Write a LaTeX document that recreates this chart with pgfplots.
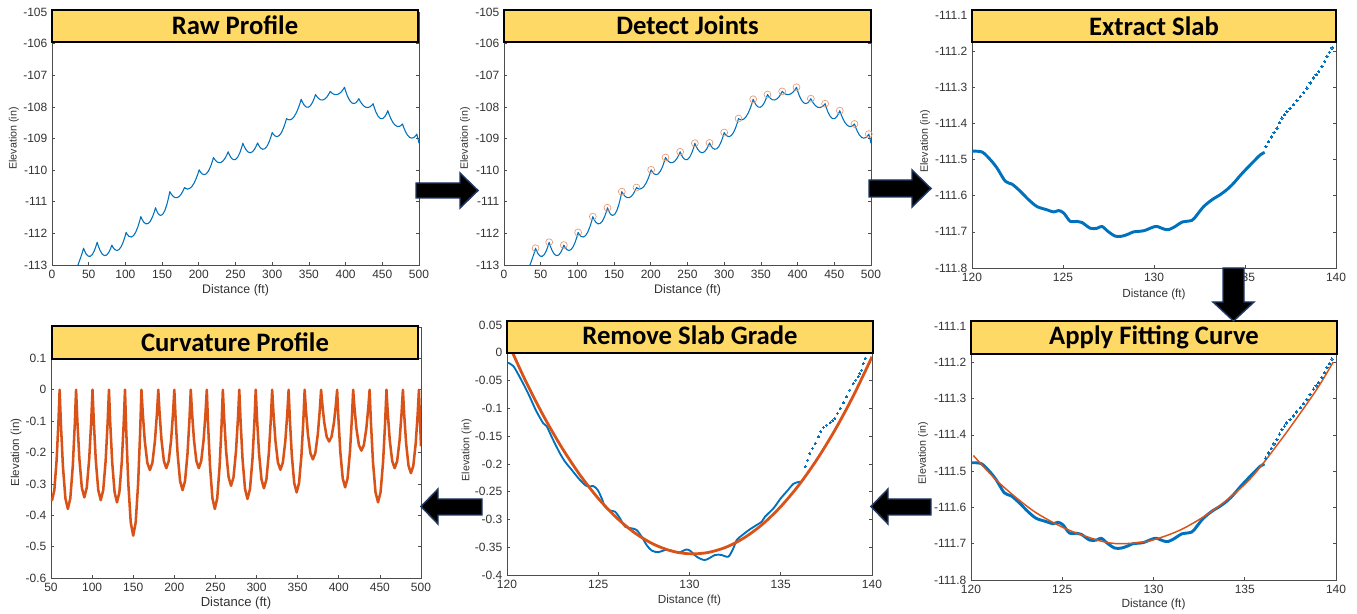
\documentclass[border=0pt]{standalone}
\usepackage{fontspec}
\setmainfont{Liberation Sans}
\newfontfamily\titlefont{Carlito}
\usepackage{pgfplots}
\usepackage{pgfplotstable}
\pgfplotsset{compat=1.18}
\definecolor{mblue}{HTML}{0072BD}
\definecolor{morange}{HTML}{D95319}
\definecolor{axgray}{HTML}{4D4D4D}
\definecolor{txtgray}{HTML}{333333}
\definecolor{titleyellow}{HTML}{FFD966}
\definecolor{arrowblue}{HTML}{1F3864}

\pgfplotstableread{
x y
34 -113.08
36 -112.96
38.5 -112.8
41 -112.63
43 -112.47
44.48 -112.558
46.7 -112.656
49.48 -112.722
52.25 -112.725
55.03 -112.665
57.8 -112.542
60.02 -112.398
61.5 -112.28
63.1 -112.399
65.5 -112.541
68.5 -112.657
71.5 -112.705
74.5 -112.684
77.5 -112.595
79.9 -112.475
81.5 -112.37
83.06 -112.439
85.4 -112.51
88.33 -112.542
91.25 -112.513
94.18 -112.422
97.1 -112.27
99.44 -112.103
101 -111.97
102.6 -112.034
105 -112.095
108 -112.115
111 -112.072
114 -111.965
117 -111.795
119.4 -111.614
121 -111.47
122.6 -111.553
125 -111.644
128 -111.699
131 -111.689
134 -111.615
137 -111.476
139.4 -111.318
141 -111.19
142.56 -111.286
144.9 -111.386
147.83 -111.435
150.75 -111.40
153.68 -111.282
156.6 -111.08
158.94 -110.858
160.5 -110.68
162.1 -110.745
164.5 -110.818
167.5 -110.868
170.5 -110.871
173.5 -110.829
176.5 -110.74
178.9 -110.636
180.5 -110.55
182.1 -110.579
184.5 -110.598
187.5 -110.582
190.5 -110.52
193.5 -110.414
196.5 -110.262
198.9 -110.108
200.5 -109.99
202.06 -110.053
204.4 -110.117
207.33 -110.145
210.25 -110.115
213.18 -110.028
216.1 -109.883
218.44 -109.725
220 -109.60
221.6 -109.659
224 -109.724
227 -109.765
230 -109.76
233 -109.711
236 -109.616
238.4 -109.508
240 -109.42
241.6 -109.51
244 -109.609
247 -109.671
250 -109.665
253 -109.59
256 -109.447
258.4 -109.284
260 -109.15
261.6 -109.239
264 -109.344
267 -109.425
270 -109.451
273 -109.422
276 -109.338
278.4 -109.231
280 -109.14
281.6 -109.216
284 -109.297
287 -109.341
290 -109.323
293 -109.242
296 -109.099
298.4 -108.939
300 -108.81
301.56 -108.867
303.9 -108.923
306.83 -108.942
309.75 -108.904
312.68 -108.81
315.6 -108.659
317.94 -108.498
319.5 -108.37
321.1 -108.396
323.5 -108.411
326.5 -108.389
329.5 -108.32
332.5 -108.206
335.5 -108.045
337.9 -107.884
339.5 -107.76
341.06 -107.844
343.4 -107.939
346.33 -108.005
349.25 -108.012
352.18 -107.96
355.1 -107.849
357.44 -107.718
359 -107.61
360.6 -107.667
363 -107.732
366 -107.777
369 -107.782
372 -107.747
375 -107.672
377.4 -107.583
379 -107.51
380.56 -107.548
382.9 -107.59
385.83 -107.615
388.75 -107.61
391.68 -107.576
394.6 -107.512
396.94 -107.439
398.5 -107.38
400.06 -107.5
402.4 -107.651
405.33 -107.789
408.25 -107.871
411.18 -107.897
414.1 -107.867
416.44 -107.803
418 -107.74
419.56 -107.81
421.9 -107.896
424.83 -107.973
427.75 -108.014
430.68 -108.021
433.6 -107.992
435.94 -107.944
437.5 -107.90
439.1 -108.023
441.5 -108.174
444.5 -108.304
447.5 -108.369
450.5 -108.37
453.5 -108.306
455.9 -108.208
457.5 -108.12
459.1 -108.227
461.5 -108.364
464.5 -108.495
467.5 -108.58
470.5 -108.621
473.5 -108.616
475.9 -108.58
477.5 -108.54
479.06 -108.644
481.4 -108.774
484.33 -108.894
487.25 -108.966
490.18 -108.99
493.1 -108.966
495.44 -108.913
497 -108.86
498.5 -109.0
500 -109.15
}\rawdata

\pgfplotstableread{
x y
43 -112.47
61.5 -112.28
81.5 -112.37
101 -111.97
121 -111.47
141 -111.19
160.5 -110.68
180.5 -110.55
200.5 -109.99
220 -109.60
240 -109.42
260 -109.15
280 -109.14
300 -108.81
319.5 -108.37
339.5 -107.76
359 -107.61
379 -107.51
398.5 -107.38
418 -107.74
437.5 -107.90
457.5 -108.12
477.5 -108.54
497 -108.86
}\jointdata

\pgfplotstableread{
x y
120 -111.477
120.55 -111.479
121.0 -111.50
121.37 -111.523
121.83 -111.560
122.2 -111.568
122.66 -111.588
123.11 -111.611
123.57 -111.630
124.12 -111.639
124.49 -111.645
124.76 -111.641
125.04 -111.648
125.4 -111.671
125.77 -111.671
126.04 -111.674
126.5 -111.69
126.87 -111.69
127.14 -111.685
127.5 -111.70
127.88 -111.712
128.24 -111.712
128.6 -111.706
128.88 -111.70
129.43 -111.697
129.89 -111.688
130.16 -111.685
130.53 -111.692
130.8 -111.694
131.17 -111.685
131.54 -111.673
132.09 -111.668
132.36 -111.653
132.73 -111.630
133.19 -111.611
133.64 -111.597
134.01 -111.583
134.38 -111.565
134.74 -111.544
135.11 -111.524
135.48 -111.505
135.84 -111.487
136.08 -111.480
}\slabline

\pgfplotstableread{
x y
136.15 -111.464
136.3 -111.450
136.45 -111.437
136.6 -111.425
136.76 -111.413
136.9 -111.398
137.03 -111.385
137.17 -111.376
137.3 -111.367
137.48 -111.358
137.67 -111.348
137.85 -111.337
138.04 -111.325
138.22 -111.314
138.4 -111.302
138.58 -111.288
138.77 -111.274
138.91 -111.265
139.05 -111.256
139.23 -111.242
139.37 -111.228
139.5 -111.214
139.64 -111.203
139.78 -111.191
}\slabdots

\pgfplotstableread{
x y
120.13 -111.457
121.6 -111.535
123.4 -111.609
125.2 -111.659
127.07 -111.692
128.2 -111.70
129.8 -111.692
131.6 -111.659
133.5 -111.600
135.3 -111.521
137.1 -111.406
138.9 -111.278
139.85 -111.199
}\slabfit

\pgfplotstableread{
x y
120.04 -0.018
120.35 -0.024
120.8 -0.050
121.2 -0.076
121.53 -0.100
121.72 -0.112
121.99 -0.127
122.17 -0.132
122.5 -0.155
122.9 -0.181
123.18 -0.196
123.55 -0.211
124.0 -0.229
124.37 -0.240
124.73 -0.240
124.97 -0.247
125.19 -0.262
125.37 -0.277
125.64 -0.284
125.92 -0.286
126.19 -0.298
126.47 -0.313
126.83 -0.316
127.1 -0.319
127.38 -0.331
127.65 -0.346
127.93 -0.356
128.29 -0.359
128.66 -0.355
129.02 -0.356
129.39 -0.360
129.84 -0.354
130.1 -0.358
130.39 -0.367
130.85 -0.373
131.4 -0.364
131.76 -0.364
132.13 -0.367
132.4 -0.352
132.59 -0.337
132.9 -0.328
133.3 -0.318
133.68 -0.310
133.96 -0.304
134.14 -0.295
134.6 -0.280
135.0 -0.262
135.4 -0.247
135.69 -0.236
136.05 -0.232
}\gradeline

\pgfplotstableread{
x y
136.33 -0.205
136.47 -0.193
136.6 -0.181
136.74 -0.172
136.88 -0.163
137.06 -0.151
137.2 -0.142
137.33 -0.134
137.5 -0.130
137.7 -0.126
137.84 -0.122
137.97 -0.118
138.11 -0.109
138.25 -0.100
138.43 -0.090
138.61 -0.079
138.79 -0.067
138.97 -0.055
139.11 -0.049
139.25 -0.043
139.34 -0.037
139.43 -0.031
139.52 -0.019
139.62 -0.010
}\gradedots

\pgfplotstableread{
x y
120 0.0223
121 -0.0494
122 -0.1136
123 -0.1705
124 -0.2200
125 -0.2621
126 -0.2968
127 -0.3242
128 -0.3441
129 -0.3567
130 -0.3619
131 -0.3596
132 -0.3500
133 -0.3330
134 -0.3087
135 -0.2769
136 -0.2378
137 -0.1912
138 -0.1373
139 -0.0760
140 -0.0073
}\gradefit

\pgfplotstableread{
x y
50 -0.345
51.3 -0.352
54.06 -0.320
56.82 -0.225
59.03 -0.104
60.5 0
62.1 -0.1119
64.5 -0.2432
67.5 -0.3458
70.5 -0.38
73.5 -0.3458
76.5 -0.2432
78.9 -0.1119
80.5 0
82.1 -0.101
84.5 -0.2195
87.5 -0.3121
90.5 -0.343
93.5 -0.3121
96.5 -0.2195
98.9 -0.101
100.5 0
102.1 -0.1036
104.5 -0.2253
107.5 -0.3203
110.5 -0.352
113.5 -0.3203
116.5 -0.2253
118.9 -0.1036
120.5 0
122.06 -0.1057
124.4 -0.2298
127.33 -0.3267
130.25 -0.359
133.18 -0.3267
136.1 -0.2298
138.44 -0.1057
140 0
141.6 -0.1369
144 -0.2976
147 -0.4232
150 -0.465
153 -0.4232
156 -0.2976
158.4 -0.1369
160 0
161.64 -0.0754
164.1 -0.1638
167.18 -0.233
170.25 -0.256
173.33 -0.233
176.4 -0.1638
178.86 -0.0754
180.5 0
182.06 -0.0736
184.4 -0.16
187.33 -0.2275
190.25 -0.25
193.18 -0.2275
196.1 -0.16
198.44 -0.0736
200 0
201.6 -0.0942
204 -0.2048
207 -0.2912
210 -0.32
213 -0.2912
216 -0.2048
218.4 -0.0942
220 0
221.56 -0.0736
223.9 -0.16
226.83 -0.2275
229.75 -0.25
232.68 -0.2275
235.6 -0.16
237.94 -0.0736
239.5 0
241.06 -0.1119
243.4 -0.2432
246.33 -0.3458
249.25 -0.38
252.18 -0.3458
255.1 -0.2432
257.44 -0.1119
259 0
260.6 -0.0901
263 -0.1958
266 -0.2785
269 -0.306
272 -0.2785
275 -0.1958
277.4 -0.0901
279 0
280.6 -0.1025
283 -0.2227
286 -0.3167
289 -0.348
292 -0.3167
295 -0.2227
297.4 -0.1025
299 0
300.6 -0.0924
303 -0.201
306 -0.2857
309 -0.314
312 -0.2857
315 -0.201
317.4 -0.0924
319 0
320.6 -0.0751
323 -0.1632
326 -0.2321
329 -0.255
332 -0.2321
335 -0.1632
337.4 -0.0751
339 0
340.56 -0.0963
342.9 -0.2093
345.83 -0.2976
348.75 -0.327
351.68 -0.2976
354.6 -0.2093
356.94 -0.0963
358.5 0
360.1 -0.0654
362.5 -0.1421
365.5 -0.202
368.5 -0.222
371.5 -0.202
374.5 -0.1421
376.9 -0.0654
378.5 0
380.06 -0.0486
382.4 -0.1056
385.33 -0.1502
388.25 -0.165
391.18 -0.1502
394.1 -0.1056
396.44 -0.0486
398 0
399.56 -0.0916
401.9 -0.199
404.83 -0.283
407.75 -0.311
410.68 -0.283
413.6 -0.199
415.94 -0.0916
417.5 0
419.1 -0.0571
421.5 -0.1242
424.5 -0.1765
427.5 -0.194
430.5 -0.1765
433.5 -0.1242
435.9 -0.0571
437.5 0
439.14 -0.1057
441.6 -0.2298
444.68 -0.3267
447.75 -0.359
450.83 -0.3267
453.9 -0.2298
456.36 -0.1057
458 0
459.6 -0.0736
462 -0.16
465 -0.2275
468 -0.25
471 -0.2275
474 -0.16
476.4 -0.0736
478 0
479.56 -0.0783
481.9 -0.1702
484.83 -0.2421
487.75 -0.266
490.68 -0.2421
493.6 -0.1702
495.94 -0.0783
497.5 0
498.7 -0.09
500 -0.18
}\curvdata

\pgfplotsset{
  panel/.style={
    scale only axis, anchor=south west,
    axis line style={draw=axgray, line width=0.6pt},
    tick style={draw=axgray, line width=0.5pt},
    major tick length=2.5pt, tick align=inside,
    ticklabel style={font=\fontsize{9}{10}\selectfont, text=txtgray},
    /pgf/number format/assume math mode=true,
    xlabel={Distance (ft)}, ylabel={Elevation (in)},
    every axis y label/.style={at={(axis description cs:-0.1,0.5)}, rotate=90, anchor=center, font=\fontsize{8}{9}\selectfont, text=txtgray},
    every axis x label/.style={at={(axis description cs:0.5,-0.1)}, anchor=center, font=\fontsize{9.3}{10}\selectfont, text=txtgray},
  },
  bluedots/.style={mblue, only marks, mark=*, mark size=#1, mark options={fill=mblue, draw=mblue, line width=0pt}},
}

\begin{document}
\begin{tikzpicture}
\useasboundingbox (0,0) rectangle (1017.75pt,460.5pt);

% Panel 1: Raw Profile
\begin{axis}[panel, at={(39pt,261.75pt)}, width=275.25pt, height=189.75pt,
  xmin=0, xmax=500, ymin=-113, ymax=-105,
  xtick={0,50,...,500}, ytick={-113,-112,-111,-110,-109,-108,-107,-106,-105},
  ylabel style={at={(axis description cs:-0.104,0.5)}},
  xlabel style={at={(axis description cs:0.5,-0.099)}}]
\addplot[mblue, line width=0.8pt, line join=round] table {\rawdata};
\end{axis}

% Panel 2: Detect Joints
\begin{axis}[panel, at={(378pt,261.75pt)}, width=275.25pt, height=189.75pt,
  xmin=0, xmax=500, ymin=-113, ymax=-105,
  xtick={0,50,...,500}, ytick={-113,-112,-111,-110,-109,-108,-107,-106,-105},
  ylabel style={at={(axis description cs:-0.106,0.5)}},
  xlabel style={at={(axis description cs:0.5,-0.099)}}]
\addplot[mblue, line width=0.8pt, line join=round] table {\rawdata};
\addplot[morange!60, only marks, mark=o, mark size=2.6pt, mark options={draw=morange!60, line width=0.5pt}] table {\jointdata};
\end{axis}

% Panel 3: Extract Slab
\begin{axis}[panel, at={(729pt,259.5pt)}, width=273pt, height=189.75pt,
  xmin=120, xmax=140, ymin=-111.8, ymax=-111.1,
  xtick={120,125,130,135,140},
  ytick={-111.8,-111.7,-111.6,-111.5,-111.4,-111.3,-111.2,-111.1},
  yticklabel style={/pgf/number format/.cd, fixed, precision=1},
  ylabel style={at={(axis description cs:-0.129,0.5)}},
  xlabel style={at={(axis description cs:0.5,-0.103)}, font=\fontsize{8.8}{10}\selectfont}]
\addplot[mblue, line width=2.2pt, smooth, line join=round] table {\slabline};
\addplot[bluedots=0.9pt] table {\slabdots};
\end{axis}

% Panel 4: Curvature Profile
\begin{axis}[panel, at={(38.25pt,27pt)}, width=277.5pt, height=188.25pt,
  xmin=50, xmax=500, ymin=-0.6, ymax=0.2,
  xtick={50,100,...,500}, ytick={-0.6,-0.5,-0.4,-0.3,-0.2,-0.1,0,0.1},
  yticklabel style={/pgf/number format/.cd, fixed, precision=1},
  ylabel style={at={(axis description cs:-0.094,0.5)}, font=\fontsize{8.7}{10}\selectfont},
  xlabel style={at={(axis description cs:0.5,-0.1)}, font=\fontsize{9.8}{11}\selectfont}]
\addplot[morange, line width=1.9pt, line join=round] table {\curvdata};
\end{axis}

% Panel 5: Remove Slab Grade
\begin{axis}[panel, at={(380.25pt,29.25pt)}, width=273.75pt, height=187.5pt,
  xmin=120, xmax=140, ymin=-0.4, ymax=0.05,
  xtick={120,125,130,135,140},
  ytick={-0.4,-0.35,-0.3,-0.25,-0.2,-0.15,-0.1,-0.05,0,0.05},
  yticklabel style={/pgf/number format/.cd, fixed, precision=2},
  ylabel style={at={(axis description cs:-0.111,0.5)}},
  xlabel style={at={(axis description cs:0.5,-0.1)}, font=\fontsize{8.8}{10}\selectfont}]
\addplot[mblue, line width=1.4pt, smooth, line join=round] table {\gradeline};
\addplot[bluedots=0.75pt] table {\gradedots};
\addplot[morange, line width=2.1pt, smooth] table {\gradefit};
\end{axis}

% Panel 6: Apply Fitting Curve
\begin{axis}[panel, at={(728.25pt,25.5pt)}, width=273.75pt, height=190.5pt,
  xmin=120, xmax=140, ymin=-111.8, ymax=-111.1,
  xtick={120,125,130,135,140},
  ytick={-111.8,-111.7,-111.6,-111.5,-111.4,-111.3,-111.2,-111.1},
  yticklabel style={/pgf/number format/.cd, fixed, precision=1},
  ylabel style={at={(axis description cs:-0.131,0.5)}},
  xlabel style={at={(axis description cs:0.5,-0.098)}, font=\fontsize{8.9}{10}\selectfont}]
\addplot[mblue, line width=2.2pt, smooth, line join=round] table {\slabline};
\addplot[bluedots=0.9pt] table {\slabdots};
\addplot[morange, line width=1.1pt, smooth] table {\slabfit};
\end{axis}

% Title boxes and arrows (pixel frame, y downwards)
\begin{scope}[x=0.75pt, y=-0.75pt, shift={(0pt,460.5pt)}]
  \tikzset{ttl/.style={font=\titlefont\bfseries\fontsize{20}{24}\selectfont, anchor=base, inner sep=0pt},
           bx/.style={fill=titleyellow, draw=black, line width=1.8pt},
           arr/.style={fill=black, draw=arrowblue, line width=1.1pt, line join=miter}}
  \filldraw[bx] (52,10) rectangle (418,42);
  \node[ttl] at (235,34.5) {Raw Profile};
  \filldraw[bx] (504,10) rectangle (871,42);
  \node[ttl] at (687.5,34.5) {Detect Joints};
  \filldraw[bx] (972,10) rectangle (1336,42);
  \node[ttl] at (1154,35.5) {Extract Slab};
  \filldraw[bx] (52,326) rectangle (418,359);
  \node[ttl] at (235,351.5) {Curvature Profile};
  \filldraw[bx] (507,321) rectangle (873,353);
  \node[ttl] at (690,344.5) {Remove Slab Grade};
  \filldraw[bx] (971,321) rectangle (1337,354);
  \node[ttl] at (1154,345) {Apply Fitting Curve};

  \filldraw[arr] (416,183) -- (460,183) -- (460,173) -- (478,190.5) -- (460,208) -- (460,198) -- (416,198) -- cycle;
  \filldraw[arr] (869,180) -- (912,180) -- (912,170) -- (931,188.5) -- (912,207) -- (912,197) -- (869,197) -- cycle;
  \filldraw[arr] (1223,268) -- (1244,268) -- (1244,302) -- (1254,302) -- (1233.5,321) -- (1213,302) -- (1223,302) -- cycle;
  \filldraw[arr] (931,499) -- (888,499) -- (888,489) -- (871,506.5) -- (888,524) -- (888,515) -- (931,515) -- cycle;
  \filldraw[arr] (482,499) -- (438,499) -- (438,489) -- (421,506.5) -- (438,524) -- (438,515) -- (482,515) -- cycle;
\end{scope}
\end{tikzpicture}
\end{document}
